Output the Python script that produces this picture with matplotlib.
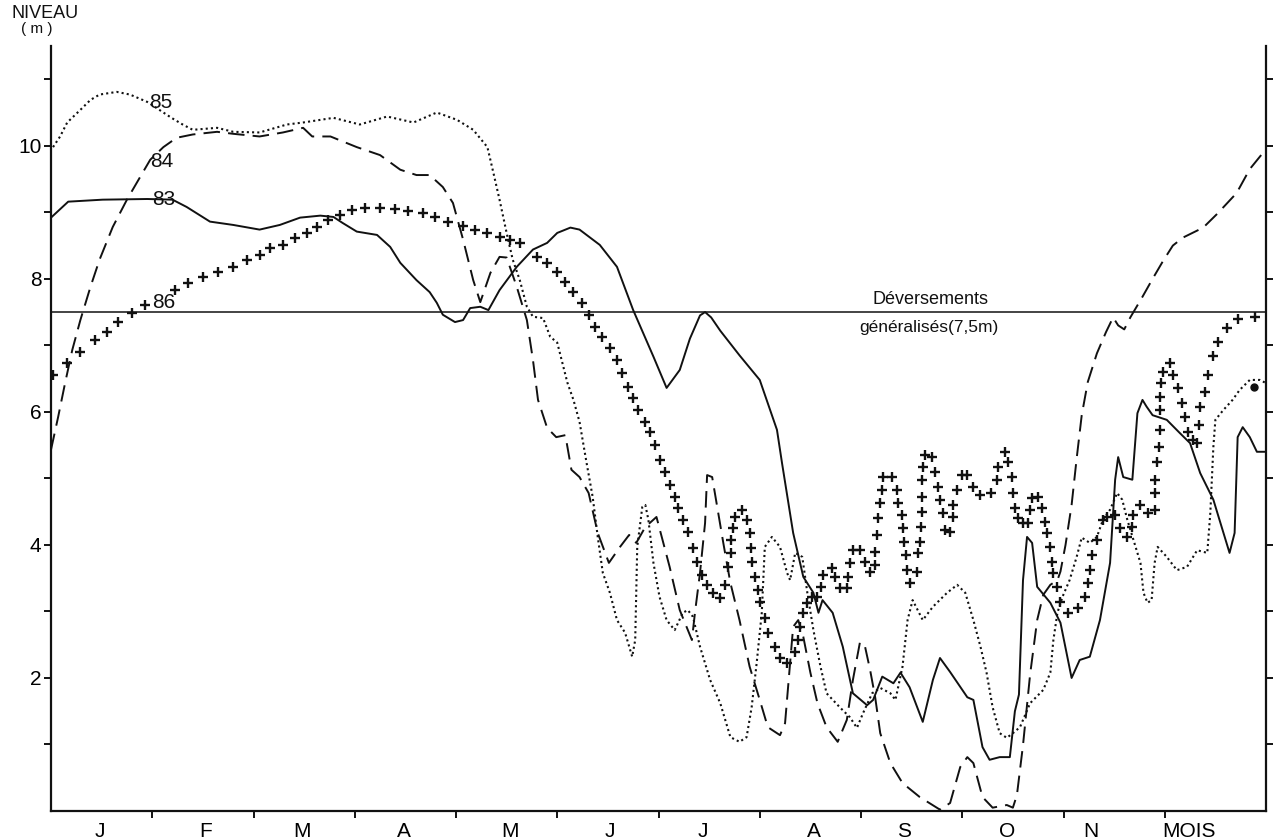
import matplotlib
matplotlib.use("Agg")
import matplotlib.pyplot as plt

# x = time in months from 1 January (0..12), y = level in metres
MONTHS = ["J", "F", "M", "A", "M", "J", "J", "A", "S", "O", "N", "MOIS"]
MONTH_POS = [0.48, 1.53, 2.48, 3.49, 4.53, 5.52, 6.44, 7.53, 8.43, 9.44, 10.27, 11.24]

t83 = [0.0, 0.17, 0.51, 0.95, 1.20, 1.34, 1.57, 1.80, 2.06, 2.26, 2.46, 2.66, 2.79, 2.88,
       3.02, 3.22, 3.35, 3.45, 3.61, 3.74, 3.81, 3.87, 3.99, 4.07, 4.14, 4.24, 4.32, 4.43,
       4.60, 4.76, 4.90, 5.00, 5.13, 5.22, 5.42, 5.59, 5.75, 5.95, 6.08, 6.21, 6.31, 6.41,
       6.46, 6.52, 6.61, 6.80, 7.00, 7.17, 7.22, 7.33, 7.43, 7.53, 7.58, 7.62, 7.72, 7.82,
       7.92, 8.06, 8.12, 8.21, 8.32, 8.39, 8.48, 8.61, 8.71, 8.78, 8.88, 9.05, 9.11, 9.20,
       9.27, 9.37, 9.47, 9.52, 9.56, 9.60, 9.64, 9.69, 9.74, 9.87, 9.97, 10.08, 10.16, 10.26,
       10.36, 10.46, 10.51, 10.54, 10.59, 10.68, 10.73, 10.78, 10.82, 10.88, 11.02, 11.15,
       11.25, 11.35, 11.48, 11.58, 11.64, 11.69, 11.72, 11.77, 11.84, 11.91, 12.0]
n83 = [8.92, 9.16, 9.19, 9.20, 9.19, 9.08, 8.86, 8.81, 8.74, 8.81, 8.92, 8.95, 8.93, 8.84,
       8.71, 8.66, 8.48, 8.24, 7.98, 7.80, 7.64, 7.46, 7.35, 7.38, 7.56, 7.58, 7.53, 7.83,
       8.18, 8.44, 8.54, 8.69, 8.77, 8.74, 8.51, 8.18, 7.53, 6.83, 6.36, 6.63, 7.10, 7.45,
       7.50, 7.42, 7.22, 6.85, 6.48, 5.73, 5.23, 4.18, 3.52, 3.28, 2.98, 3.17, 2.98, 2.47,
       1.77, 1.59, 1.67, 2.02, 1.92, 2.08, 1.86, 1.34, 1.97, 2.30, 2.09, 1.71, 1.67, 0.96,
       0.77, 0.81, 0.81, 1.50, 1.75, 3.47, 4.12, 4.03, 3.37, 3.13, 2.83, 2.00, 2.27, 2.32,
       2.87, 3.73, 4.98, 5.32, 5.02, 4.98, 5.98, 6.18, 6.08, 5.95, 5.88, 5.68,
       5.53, 5.08, 4.68, 4.18, 3.88, 4.18, 5.62, 5.77, 5.62, 5.40, 5.40]

t84 = [0.0, 0.07, 0.14, 0.21, 0.29, 0.39, 0.48, 0.61, 0.75, 0.88, 0.98, 1.11, 1.24, 1.40,
       1.64, 1.80, 2.06, 2.29, 2.49, 2.58, 2.76, 3.02, 3.25, 3.45, 3.61, 3.74, 3.87, 3.97,
       4.07, 4.17, 4.24, 4.34, 4.43, 4.50, 4.60, 4.70, 4.76, 4.81, 4.90, 4.99, 5.08, 5.14,
       5.22, 5.31, 5.40, 5.51, 5.62, 5.71, 5.78, 5.87, 5.98, 6.11, 6.21, 6.33, 6.36, 6.41,
       6.46, 6.48, 6.53, 6.58, 6.64, 6.71, 6.80, 6.90, 7.00, 7.08, 7.20, 7.25, 7.30, 7.33,
       7.38, 7.43, 7.50, 7.57, 7.66, 7.77, 7.86, 7.92, 7.99, 8.04, 8.09, 8.14, 8.19, 8.29,
       8.41, 8.58, 8.78, 8.88, 8.98, 9.05, 9.11, 9.20, 9.30, 9.44, 9.50, 9.54, 9.60, 9.67,
       9.74, 9.80, 9.87, 9.94, 9.97, 10.02, 10.08, 10.13, 10.18, 10.24, 10.33, 10.42,
       10.49, 10.54, 10.60, 10.66, 10.78, 10.88, 10.98, 11.08, 11.18, 11.38, 11.52, 11.71,
       11.84, 12.0]
n84 = [5.43, 5.92, 6.44, 6.93, 7.38, 7.88, 8.29, 8.78, 9.19, 9.53, 9.79, 9.98, 10.12, 10.17,
       10.21, 10.18, 10.14, 10.20, 10.27, 10.14, 10.14, 9.98, 9.86, 9.64, 9.56, 9.56, 9.38, 9.14,
       8.59, 7.98, 7.65, 8.09, 8.33, 8.32, 7.88, 7.38, 6.78, 6.18, 5.76, 5.62, 5.65, 5.13,
       5.02, 4.78, 4.18, 3.73, 3.97, 4.15, 4.03, 4.27, 4.42, 3.67, 3.02, 2.57, 2.98, 3.58,
       4.33, 5.05, 5.02, 4.57, 4.03, 3.43, 2.87, 2.17, 1.67, 1.26, 1.14, 1.32, 2.23, 2.77,
       2.87, 2.62, 2.08, 1.62, 1.26, 1.04, 1.37, 1.97, 2.54, 2.47, 2.12, 1.71, 1.17, 0.72,
       0.42, 0.21, 0.02, 0.12, 0.66, 0.81, 0.72, 0.21, 0.05, 0.09, 0.05, 0.24, 0.99, 2.05,
       2.87, 3.25, 3.40, 3.47, 3.60, 4.00, 4.60, 5.30, 5.95, 6.45, 6.88, 7.20,
       7.42, 7.30, 7.24, 7.42, 7.73, 8.00, 8.26, 8.50, 8.62, 8.77, 8.98, 9.29,
       9.65, 9.95]

t85 = [0.02, 0.09, 0.16, 0.29, 0.39, 0.48, 0.65, 0.78, 0.95, 1.19, 1.30, 1.40, 1.64, 1.80,
       2.06, 2.33, 2.49, 2.66, 2.79, 3.05, 3.32, 3.58, 3.81, 4.01, 4.17, 4.31, 4.37, 4.43,
       4.50, 4.56, 4.63, 4.70, 4.76, 4.86, 4.93, 5.00, 5.05, 5.10, 5.16, 5.22, 5.29, 5.35,
       5.40, 5.45, 5.52, 5.59, 5.67, 5.74, 5.77, 5.79, 5.84, 5.87, 5.90, 5.95, 6.01, 6.08,
       6.16, 6.24, 6.29, 6.34, 6.41, 6.51, 6.61, 6.71, 6.80, 6.87, 6.92, 6.97, 7.02, 7.05,
       7.12, 7.20, 7.27, 7.30, 7.35, 7.42, 7.47, 7.53, 7.60, 7.66, 7.79, 7.89, 7.96, 8.02,
       8.11, 8.19, 8.29, 8.34, 8.41, 8.46, 8.51, 8.61, 8.71, 8.85, 8.95, 9.03, 9.11, 9.18,
       9.24, 9.30, 9.37, 9.44, 9.50, 9.57, 9.67, 9.80, 9.87, 9.90, 9.94, 9.99, 10.06, 10.13,
       10.18, 10.26, 10.33, 10.39, 10.46, 10.53, 10.58, 10.63, 10.69, 10.76, 10.79, 10.83,
       10.87, 10.90, 10.93, 11.02, 11.12, 11.22, 11.32, 11.42, 11.45, 11.48, 11.50, 11.58,
       11.67, 11.74, 11.84, 11.94, 11.99]
n85 = [9.98, 10.14, 10.35, 10.54, 10.69, 10.77, 10.81, 10.77, 10.66, 10.42, 10.32, 10.24,
       10.27, 10.21, 10.20, 10.32, 10.35, 10.39, 10.42, 10.32, 10.44, 10.35, 10.50, 10.39,
       10.24, 9.98, 9.59, 9.19, 8.69, 8.29, 7.98, 7.58, 7.43, 7.41, 7.13, 7.04, 6.74, 6.44,
       6.18, 5.85, 5.23, 4.72, 4.12, 3.58, 3.28, 2.87, 2.68, 2.32, 2.57, 3.97, 4.57, 4.60,
       4.38, 3.73, 3.22, 2.87, 2.72, 2.98, 3.02, 2.92, 2.47, 1.97, 1.62, 1.11, 1.04, 1.11,
       1.56, 2.23, 2.98, 3.97, 4.12, 3.97, 3.58, 3.47, 3.88, 3.82, 3.28, 2.72, 2.17, 1.77,
       1.56, 1.41, 1.25, 1.47, 1.77, 1.85, 1.77, 1.67, 2.17, 2.87, 3.17, 2.87, 3.07, 3.28,
       3.40, 3.28, 2.87, 2.47, 2.08, 1.56, 1.17, 1.10, 1.17, 1.26, 1.62, 1.82, 2.08, 2.57,
       2.98, 3.22, 3.47, 3.82, 4.11, 4.03, 4.12, 4.38, 4.53, 4.78, 4.68, 4.38, 4.08, 3.73,
       3.28, 3.13, 3.17, 3.73, 3.97, 3.82, 3.62, 3.67, 3.92, 3.88, 4.48, 5.47, 5.88, 6.03,
       6.18, 6.33, 6.48, 6.48, 6.44]

t86 = [0.02, 0.16, 0.29, 0.43, 0.55, 0.66, 0.80, 0.93, 1.22, 1.35, 1.50, 1.65, 1.80, 1.94,
       2.06, 2.16, 2.29, 2.41, 2.53, 2.63, 2.74, 2.85, 2.97, 3.10, 3.25, 3.40, 3.53, 3.67,
       3.79, 3.92, 4.07, 4.19, 4.31, 4.43, 4.53, 4.63, 4.80, 4.90, 5.00, 5.08, 5.16, 5.24,
       5.31, 5.37, 5.44, 5.52, 5.59, 5.64, 5.70, 5.75, 5.80, 5.87, 5.92, 5.97, 6.01, 6.06,
       6.11, 6.16, 6.19, 6.24, 6.29, 6.34, 6.38, 6.43, 6.48, 6.54, 6.61, 6.66, 6.69, 6.72,
       6.72, 6.74, 6.76, 6.82, 6.87, 6.90, 6.91, 6.92, 6.95, 6.98, 7.00, 7.05, 7.08, 7.15,
       7.20, 7.27, 7.35, 7.38, 7.40, 7.43, 7.47, 7.52, 7.57, 7.60, 7.62, 7.71, 7.74, 7.79,
       7.86, 7.87, 7.89, 7.92, 7.99, 8.04, 8.09, 8.14, 8.14, 8.16, 8.17, 8.19, 8.21, 8.22,
       8.31, 8.36, 8.37, 8.40, 8.41, 8.42, 8.44, 8.45, 8.48, 8.55, 8.56, 8.58, 8.59, 8.60,
       8.60, 8.60, 8.61, 8.63, 8.70, 8.73, 8.76, 8.78, 8.81, 8.83, 8.88, 8.91, 8.91, 8.95,
       9.00, 9.05, 9.11, 9.18, 9.28, 9.34, 9.35, 9.42, 9.45, 9.49, 9.50, 9.52, 9.55, 9.60,
       9.65, 9.67, 9.69, 9.75, 9.79, 9.82, 9.84, 9.87, 9.89, 9.90, 9.94, 9.97, 10.04, 10.14,
       10.21, 10.24, 10.26, 10.28, 10.33, 10.39, 10.43, 10.51, 10.56, 10.63, 10.68, 10.69,
       10.76, 10.83, 10.90, 10.90, 10.90, 10.92, 10.94, 10.95, 10.95, 10.95, 10.96, 10.98,
       11.05, 11.08, 11.13, 11.17, 11.20, 11.23, 11.28, 11.32, 11.34, 11.35, 11.40, 11.43,
       11.48, 11.53, 11.61, 11.72, 11.89]
n86 = [6.56, 6.74, 6.90, 7.08, 7.20, 7.35, 7.49, 7.61, 7.83, 7.94, 8.03, 8.11, 8.18, 8.29,
       8.36, 8.47, 8.51, 8.62, 8.69, 8.78, 8.89, 8.96, 9.04, 9.07, 9.07, 9.05, 9.02, 8.99,
       8.93, 8.86, 8.80, 8.74, 8.69, 8.63, 8.59, 8.54, 8.33, 8.24, 8.11, 7.95, 7.80, 7.64,
       7.46, 7.28, 7.13, 6.96, 6.78, 6.59, 6.38, 6.21, 6.03, 5.85, 5.70, 5.50, 5.28, 5.10,
       4.90, 4.72, 4.56, 4.38, 4.20, 3.95, 3.74, 3.55, 3.40, 3.28, 3.20, 3.40, 3.67, 3.88,
       4.08, 4.26, 4.42, 4.53, 4.38, 4.18, 3.95, 3.74, 3.52, 3.32, 3.14, 2.90, 2.68, 2.47,
       2.30, 2.23, 2.39, 2.57, 2.77, 2.98, 3.13, 3.22, 3.22, 3.37, 3.55, 3.65, 3.52, 3.35,
       3.35, 3.52, 3.73, 3.92, 3.92, 3.74, 3.59, 3.70, 3.89, 4.15, 4.41, 4.63, 4.83, 5.02,
       5.02, 4.83, 4.63, 4.45, 4.26, 4.05, 3.85, 3.62, 3.43, 3.59, 3.88, 4.05, 4.27, 4.50,
       4.72, 4.98, 5.17, 5.35, 5.32, 5.10, 4.87, 4.68, 4.48, 4.23, 4.20, 4.42, 4.60, 4.83,
       5.05, 5.05, 4.87, 4.75, 4.78, 4.98, 5.17, 5.40, 5.25, 5.02, 4.78, 4.56, 4.40, 4.33,
       4.33, 4.53, 4.71, 4.72, 4.56, 4.35, 4.18, 3.97, 3.74, 3.58, 3.37, 3.14, 2.98, 3.05,
       3.22, 3.43, 3.62, 3.85, 4.08, 4.38, 4.42, 4.45, 4.26, 4.12, 4.27, 4.45,
       4.60, 4.48, 4.53, 4.78, 4.98, 5.25, 5.47, 5.73, 6.03, 6.23, 6.44, 6.60,
       6.74, 6.56, 6.36, 6.14, 5.92, 5.70, 5.58, 5.53, 5.80, 6.08, 6.30, 6.56,
       6.84, 7.05, 7.26, 7.40, 7.43]

SEUIL = 7.5
BLOB = (11.88, 6.38)

plt.rcParams['font.family'] = ['Liberation Sans', 'DejaVu Sans']

fig = plt.figure(figsize=(12.79, 8.40), dpi=100)
ax = fig.add_axes([51 / 1279, 29 / 840, 1215 / 1279, 765 / 840])

ink = "#111111"
ax.plot(t83, n83, color=ink, lw=1.4, ls="-")
ax.plot(t84, n84, color=ink, lw=1.4, ls=(0, (8.5, 4.2)))
ax.plot(t85, n85, color=ink, lw=1.5, ls=(0, (1, 1.5)))
ax.plot(t86, n86, ls="none", marker="+", ms=7, mew=1.7, color=ink)
ax.plot([BLOB[0]], [BLOB[1]], marker="o", ms=5, color=ink, ls="none")

ax.axhline(SEUIL, color=ink, lw=1.1)
ax.text(8.69, SEUIL + 0.06, "Déversements", ha="center", va="bottom", fontsize=13, color=ink)
ax.text(8.67, SEUIL - 0.12, "généralisés(7,5m)", ha="center", va="top", fontsize=12.5, color=ink)

for lab, x, y in [("85", 1.08, 10.65), ("84", 1.09, 9.76), ("83", 1.11, 9.19), ("86", 1.11, 7.64)]:
    ax.text(x, y, lab, ha="center", va="center", fontsize=15, color=ink)

ax.set_xlim(0, 12)
ax.set_ylim(0, 11.5)
for s in ("left", "right", "bottom"):
    ax.spines[s].set_linewidth(1.6)
    ax.spines[s].set_color(ink)
ax.spines["top"].set_visible(False)

ax.set_xticks(MONTH_POS, MONTHS)
ax.set_xticks(range(1, 12), minor=True)
ax.tick_params(axis="x", which="major", length=0, pad=8, labelsize=15)
ax.tick_params(axis="x", which="minor", length=5, width=1.3, direction="out")

ax.set_yticks([2, 4, 6, 8, 10])
ax.set_yticks([1, 3, 5, 7, 9, 11], minor=True)
ax.tick_params(axis="y", which="both", left=True, right=True, direction="out",
               length=5, width=1.3, labelsize=15, pad=2)

fig.text(45 / 1279, 1 - 13 / 840, "NIVEAU", ha="center", va="center", fontsize=13, color=ink)
fig.text(37 / 1279, 1 - 29 / 840, "( m )", ha="center", va="center", fontsize=11, color=ink)

fig.savefig("out.png", dpi=100)
